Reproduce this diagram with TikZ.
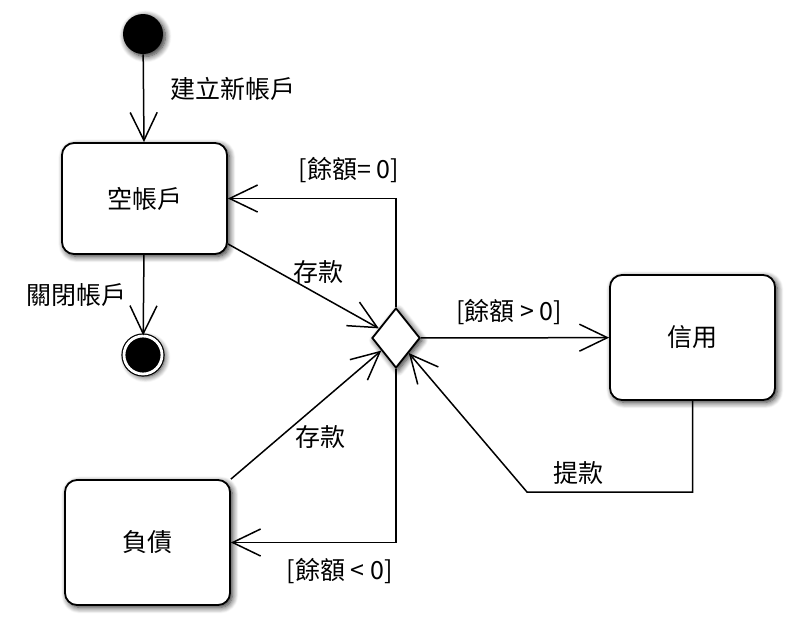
\documentclass[tikz,border=0pt]{standalone}
\usepackage{fontspec}
\newfontfamily\cjk{Noto Sans CJK TC}
\usetikzlibrary{arrows.meta,shapes.geometric,shadows.blur}
\tikzset{
    soft/.style={blur shadow={shadow xshift=1.2pt, shadow yshift=-1.2pt, shadow blur radius=3pt, shadow blur steps=8, shadow opacity=85}},
    statebox/.style={draw, line width=0.9pt, fill=white, rounded corners=6pt, minimum width=82.5pt, soft},
    flow/.style={->, line width=0.75pt},
    lbl/.style={font=\cjk\fontsize{12.5}{14}\selectfont}
}
\begin{document}
\begin{tikzpicture}[x=0.5pt, y=-0.5pt, >={Straight Barb[length=14pt,width=13.5pt]}]
    \useasboundingbox (0,0) rectangle (789,617);

    \node [circle, fill=black, minimum size=20pt, inner sep=0pt, soft] (start) at (143,34) {};
    \node [statebox, minimum height=55.5pt, lbl] (empty) at (144.5,198.5) {空帳戶};
    \node [circle, draw, line width=0.6pt, double=white, double distance=1.4pt, fill=black, minimum size=19pt, inner sep=0pt, soft] (finish) at (143,355) {};
    \node [diamond, draw, line width=0.9pt, fill=white, minimum width=24pt, minimum height=30pt, inner sep=0pt, soft] (choice) at (396,338) {};
    \node [statebox, minimum height=62.5pt, lbl] (credit) at (692.5,337.5) {信用};
    \node [statebox, minimum height=62.5pt, lbl] (debt) at (147.5,542.5) {負債};
    \coordinate (turn) at (527,492);

    \draw[flow] (start) -- (empty) node [pos=0.4, right=10pt, lbl] {建立新帳戶};
    \draw[flow] (empty) -- (finish) node [midway, left=5pt, lbl] {關閉帳戶};
    \draw[flow] ([yshift=5.5pt]empty.south east) -- (choice) node [pos=0.6, above=2pt, lbl] {存款};
    \draw[flow] (debt.north east) -- (choice) node [pos=0.4, below right, xshift=-1.5pt, yshift=5pt, lbl] {存款};
    \draw[flow] (choice) -- (credit) node [midway, above=3pt, xshift=-3pt, lbl] {[餘額 > 0]};
    \draw[flow] (choice) |- (empty) node [pos=0.64, above=4pt, lbl] {[餘額= 0]};
    \draw[flow] (choice) |- (debt) node [pos=0.67, below=4pt, lbl] {[餘額 < 0]};
    \draw[flow] (credit) |- (turn) node [pos=0.845, above, lbl] {提款} -- (choice);
\end{tikzpicture}
\end{document}
